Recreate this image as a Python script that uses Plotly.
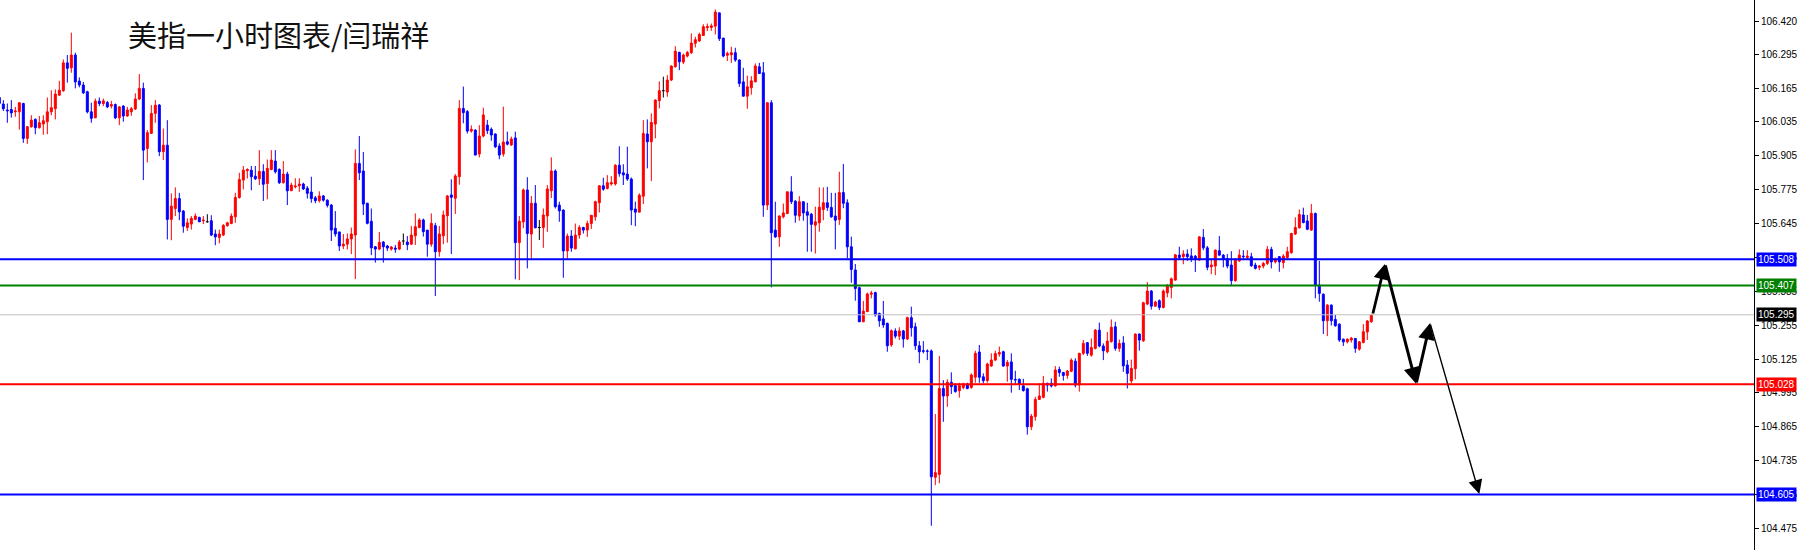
import plotly.graph_objects as go

# ---- hourly candles (price values) ----
opens = [
106.129,106.104,106.081,106.083,106.074,106.074,106.106,105.972,106.017,106.045,
106.013,106.027,106.036,106.074,106.086,106.138,106.155,106.262,106.243,106.292,
106.192,106.177,106.151,106.074,106.051,106.115,106.106,106.110,106.096,106.102,
106.051,106.096,106.058,106.074,106.085,106.123,106.164,105.933,105.991,106.068,
106.100,105.921,105.946,105.661,105.703,105.741,105.693,105.630,105.643,105.661,
105.669,105.656,105.652,105.656,105.605,105.592,105.601,105.637,105.645,105.671,
105.745,105.812,105.848,105.850,105.827,105.817,105.845,105.799,105.853,105.885,
105.853,105.802,105.835,105.771,105.786,105.790,105.797,105.781,105.766,105.744,
105.733,105.751,105.735,105.716,105.627,105.613,105.559,105.566,105.586,105.601,
105.876,105.847,105.723,105.654,105.556,105.547,105.574,105.559,105.547,105.551,
105.547,105.578,105.574,105.566,105.598,105.630,105.659,105.620,105.566,105.637,
105.537,105.598,105.675,105.755,105.742,105.825,106.087,106.075,106.000,106.004,
105.912,105.981,106.023,106.007,105.989,105.943,105.912,105.959,105.947,105.974,
105.572,105.651,105.774,105.605,105.723,105.630,105.630,105.674,105.771,105.847,
105.716,105.697,105.540,105.597,105.548,105.601,105.630,105.620,105.645,105.671,
105.725,105.790,105.780,105.797,105.797,105.869,105.840,105.835,105.816,105.701,
105.689,105.750,105.989,105.959,106.027,106.117,106.155,106.150,106.196,106.247,
106.302,106.265,106.288,106.301,106.337,106.346,106.367,106.397,106.398,106.403,
106.454,106.357,106.291,106.293,106.301,106.273,106.189,106.134,106.166,106.189,
106.247,106.224,105.716,106.109,105.620,105.594,105.671,105.684,105.767,105.731,
105.674,105.729,105.690,105.681,105.639,105.648,105.699,105.725,105.707,105.674,
105.661,105.764,105.725,105.556,105.467,105.399,105.268,105.307,105.374,105.380,
105.300,105.279,105.262,105.179,105.233,105.213,105.233,105.202,105.284,105.249,
105.176,105.157,105.156,105.156,104.671,104.682,105.012,104.983,105.036,105.023,
105.003,105.016,105.029,105.016,105.055,105.152,105.057,105.042,105.098,105.121,
105.144,105.153,105.098,105.114,105.047,105.047,105.022,105.011,104.865,104.904,
104.970,104.978,105.032,105.032,105.022,105.085,105.073,105.062,105.078,105.117,
105.025,105.147,105.188,105.140,105.166,105.236,105.175,105.153,105.192,105.249,
105.166,105.187,105.102,105.041,105.088,105.221,105.195,105.336,105.386,105.328,
105.349,105.323,105.379,105.400,105.428,105.524,105.518,105.528,105.521,105.520,
105.505,105.592,105.552,105.479,105.482,105.541,105.524,105.511,105.486,105.426,
105.502,105.520,105.515,105.518,105.486,105.477,105.482,105.492,105.546,105.498,
105.518,105.495,105.515,105.533,105.605,105.629,105.678,105.655,105.620,105.684,
105.409,105.374,105.272,105.332,105.277,105.259,105.201,105.191,105.198,105.204,
105.163,105.189,105.229,105.268]
highs = [
106.132,106.119,106.106,106.119,106.093,106.111,106.109,106.019,106.061,106.049,
106.058,106.061,106.129,106.157,106.160,106.193,106.275,106.292,106.378,106.301,
106.206,106.189,106.155,106.109,106.125,106.129,106.125,106.116,106.116,106.106,
106.096,106.100,106.093,106.093,106.145,106.219,106.186,106.004,106.100,106.119,
106.104,106.010,106.042,105.761,105.784,105.763,105.697,105.665,105.674,105.684,
105.671,105.674,105.681,105.677,105.622,105.622,105.643,105.652,105.684,105.763,
105.840,105.866,105.857,105.866,105.866,105.927,105.873,105.891,105.927,105.927,
105.857,105.885,105.844,105.802,105.819,105.819,105.802,105.789,105.825,105.751,
105.769,105.755,105.738,105.720,105.693,105.613,105.605,105.607,105.630,105.930,
105.981,105.920,105.725,105.703,105.559,105.613,105.578,105.563,105.559,105.563,
105.582,105.607,105.597,105.636,105.684,105.666,105.664,105.620,105.684,105.648,
105.636,105.695,105.755,105.815,105.835,106.119,106.171,106.081,106.022,106.007,
106.023,106.090,106.043,106.014,105.991,105.953,106.094,105.998,105.979,105.998,
105.674,105.780,105.823,105.751,105.793,105.659,105.703,105.793,105.899,105.853,
105.729,105.699,105.607,105.620,105.645,105.639,105.633,105.656,105.677,105.733,
105.793,105.821,105.831,105.827,105.873,105.942,105.873,105.940,105.822,105.729,
105.761,106.042,106.045,106.068,106.122,106.191,106.209,106.215,106.252,106.326,
106.305,106.298,106.308,106.375,106.362,106.378,106.410,106.413,106.413,106.467,
106.454,106.358,106.305,106.324,106.320,106.275,106.243,106.213,106.211,106.260,
106.262,106.265,106.109,106.119,105.729,105.677,105.722,105.767,105.827,105.735,
105.750,105.729,105.725,105.686,105.710,105.784,105.784,105.786,105.763,105.763,
105.844,105.874,105.738,105.595,105.490,105.403,105.348,105.380,105.387,105.384,
105.303,105.348,105.265,105.239,105.243,105.247,105.237,105.288,105.326,105.265,
105.194,105.194,105.162,105.162,104.914,105.137,105.044,105.047,105.074,105.032,
105.034,105.034,105.034,105.070,105.157,105.179,105.070,105.111,105.147,105.157,
105.173,105.157,105.121,105.147,105.080,105.051,105.049,105.015,104.914,104.980,
105.032,105.060,105.034,105.051,105.098,105.096,105.076,105.083,105.128,105.128,
105.149,105.198,105.189,105.204,105.240,105.265,105.185,105.229,105.277,105.268,
105.200,105.213,105.121,105.123,105.223,105.223,105.345,105.420,105.390,105.349,
105.354,105.392,105.413,105.438,105.528,105.556,105.543,105.546,105.550,105.524,
105.597,105.624,105.559,105.511,105.546,105.597,105.528,105.528,105.539,105.511,
105.546,105.543,105.543,105.533,105.495,105.486,105.498,105.559,105.556,105.515,
105.520,105.528,105.556,105.610,105.669,105.699,105.706,105.678,105.720,105.687,
105.502,105.377,105.336,105.335,105.294,105.262,105.204,105.205,105.210,105.205,
105.194,105.259,105.275,105.298]
lows = [
106.081,106.077,106.032,106.052,106.055,106.006,105.955,105.951,106.013,105.988,
106.010,105.986,105.988,106.061,106.045,106.136,106.151,106.186,106.224,106.164,
106.168,106.142,106.068,106.032,106.050,106.096,106.096,106.088,106.087,106.046,
106.023,106.036,106.055,106.059,106.081,106.119,105.812,105.880,105.991,106.032,
105.904,105.889,105.584,105.581,105.674,105.658,105.610,105.617,105.622,105.658,
105.651,105.643,105.648,105.597,105.562,105.569,105.597,105.633,105.643,105.648,
105.741,105.776,105.818,105.773,105.812,105.793,105.732,105.738,105.850,105.837,
105.797,105.799,105.716,105.771,105.780,105.767,105.774,105.741,105.725,105.723,
105.726,105.729,105.707,105.578,105.595,105.540,105.547,105.546,105.528,105.432,
105.812,105.678,105.642,105.524,105.495,105.543,105.495,105.540,105.541,105.533,
105.543,105.563,105.543,105.563,105.563,105.627,105.595,105.518,105.556,105.367,
105.518,105.566,105.572,105.528,105.682,105.794,106.030,105.991,105.994,105.908,
105.899,105.976,105.989,105.963,105.935,105.892,105.902,105.945,105.943,105.431,
105.428,105.627,105.473,105.511,105.627,105.582,105.552,105.613,105.743,105.703,
105.652,105.437,105.511,105.537,105.546,105.587,105.607,105.594,105.625,105.656,
105.688,105.771,105.776,105.791,105.791,105.825,105.793,105.809,105.639,105.635,
105.689,105.720,105.857,105.808,105.972,106.087,106.129,106.132,106.192,106.244,
106.234,106.257,106.283,106.296,106.321,106.342,106.365,106.384,106.385,106.371,
106.346,106.283,106.269,106.262,106.266,106.170,106.134,106.086,106.140,106.188,
106.219,105.671,105.697,105.400,105.590,105.556,105.665,105.681,105.720,105.648,
105.656,105.656,105.537,105.537,105.530,105.614,105.658,105.694,105.667,105.546,
105.640,105.704,105.512,105.418,105.349,105.268,105.268,105.307,105.358,105.288,
105.249,105.245,105.153,105.172,105.204,105.198,105.169,105.198,105.211,105.160,
105.109,105.147,105.121,104.485,104.641,104.648,104.884,104.942,104.991,104.996,
104.977,105.009,105.009,105.011,105.034,105.034,105.032,105.034,105.096,105.117,
105.134,105.096,105.038,104.996,105.025,105.006,105.000,104.835,104.852,104.888,
104.968,104.974,105.000,105.016,105.019,105.057,105.042,105.049,105.075,105.016,
105.000,105.140,105.137,105.134,105.162,105.170,105.121,105.147,105.188,105.157,
105.153,105.076,105.012,105.031,105.047,105.157,105.191,105.332,105.315,105.326,
105.313,105.319,105.362,105.358,105.426,105.505,105.489,105.502,105.498,105.459,
105.502,105.543,105.466,105.451,105.447,105.520,105.477,105.473,105.409,105.422,
105.498,105.505,105.505,105.479,105.469,105.466,105.473,105.486,105.473,105.492,
105.460,105.473,105.505,105.530,105.601,105.626,105.646,105.620,105.617,105.358,
105.345,105.221,105.213,105.254,105.249,105.191,105.175,105.185,105.188,105.149,
105.157,105.185,105.198,105.264]
closes = [
106.106,106.086,106.078,106.070,106.077,106.109,105.972,106.017,106.042,106.013,
106.032,106.040,106.074,106.090,106.142,106.157,106.262,106.241,106.292,106.189,
106.177,106.147,106.074,106.049,106.115,106.106,106.116,106.093,106.102,106.051,
106.093,106.058,106.081,106.086,106.123,106.164,105.927,105.994,106.068,106.099,
105.921,105.946,105.661,105.712,105.741,105.690,105.635,105.648,105.665,105.674,
105.652,105.658,105.652,105.601,105.594,105.605,105.638,105.648,105.674,105.745,
105.814,105.850,105.853,105.825,105.817,105.845,105.796,105.857,105.889,105.844,
105.802,105.835,105.771,105.793,105.789,105.797,105.778,105.761,105.741,105.733,
105.751,105.735,105.715,105.620,105.605,105.559,105.566,105.586,105.605,105.876,
105.840,105.720,105.646,105.552,105.547,105.573,105.556,105.551,105.555,105.547,
105.574,105.578,105.564,105.601,105.633,105.659,105.614,105.566,105.646,105.537,
105.605,105.678,105.751,105.746,105.828,106.087,106.071,106.000,106.007,105.908,
105.981,106.062,106.002,105.985,105.940,105.908,105.958,105.950,105.970,105.572,
105.654,105.774,105.607,105.723,105.629,105.630,105.678,105.778,105.847,105.710,
105.694,105.540,105.597,105.551,105.601,105.630,105.620,105.645,105.677,105.729,
105.790,105.777,105.802,105.802,105.869,105.837,105.832,105.816,105.697,105.689,
105.754,105.991,105.959,106.033,106.119,106.155,106.155,106.196,106.250,106.307,
106.266,106.292,106.302,106.338,106.351,106.371,106.401,106.401,106.404,106.457,
106.355,106.288,106.298,106.301,106.273,106.183,106.134,106.170,106.193,106.250,
106.221,105.716,106.109,105.610,105.594,105.674,105.686,105.767,105.729,105.677,
105.729,105.686,105.677,105.642,105.652,105.708,105.725,105.707,105.671,105.658,
105.764,105.723,105.556,105.469,105.396,105.268,105.309,105.375,105.378,105.294,
105.272,105.256,105.176,105.234,105.213,105.233,105.202,105.284,105.245,105.176,
105.153,105.155,105.155,104.673,104.689,105.012,104.983,105.036,105.019,105.000,
105.023,105.029,105.012,105.064,105.147,105.055,105.042,105.106,105.121,105.146,
105.150,105.098,105.112,105.047,105.045,105.028,105.004,104.865,104.906,104.970,
104.983,105.032,105.025,105.022,105.083,105.073,105.062,105.079,105.121,105.025,
105.147,105.185,105.147,105.169,105.236,105.175,105.157,105.194,105.247,105.166,
105.185,105.099,105.070,105.089,105.221,105.198,105.341,105.386,105.328,105.344,
105.323,105.386,105.405,105.433,105.525,105.515,105.528,105.518,105.511,105.507,
105.594,105.552,105.477,105.486,105.543,105.524,105.507,105.482,105.426,105.509,
105.524,105.518,105.520,105.483,105.473,105.482,105.492,105.546,105.498,105.505,
105.498,105.520,105.537,105.607,105.630,105.680,105.649,105.623,105.684,105.409,
105.377,105.272,105.332,105.272,105.253,105.198,105.191,105.201,105.205,105.166,
105.191,105.230,105.271,105.294]

# ---- axis ticks (labels as printed on the right scale) ----
tick_labels = ["106.420", "106.295", "106.165", "106.035", "105.905", "105.775",
               "105.645", "105.515", "105.385", "105.255", "105.125", "104.995",
               "104.865", "104.735", "104.605", "104.475"]
tick_values = [float(t) for t in tick_labels]

# ---- horizontal levels: (price, colour, width) ----
level_prices = [105.508, 105.407, 105.295, 105.028, 104.605]
level_colors = ["#0000FF", "#008000", "#C0C0C0", "#FF0000", "#0000FF"]
level_widths = [2, 2, 1, 2, 2]
badge_bg = ["#0000FF", "#008000", "#000000", "#FF0000", "#0000FF"]

# ---- hand-drawn forecast path (candle index, price) ----
path_x = [343.3, 346.4, 354.2, 357.7, 370.0]
path_y = [105.294, 105.490, 105.030, 105.263, 104.607]
path_w = [2.8, 3.0, 3.0, 1.4]
path_head = [1.1, 1.1, 1.1, 2.0]

title_text = "美指一小时图表/闫瑞祥"

n = len(opens)
idx = list(range(n))
norm = [i for i in idx if opens[i] != closes[i]]
doji = [i for i in idx if opens[i] == closes[i]]

fig = go.Figure()
fig.add_trace(go.Candlestick(
    x=norm,
    open=[opens[i] for i in norm], high=[highs[i] for i in norm],
    low=[lows[i] for i in norm], close=[closes[i] for i in norm],
    increasing=dict(line=dict(color="#FF0000", width=1), fillcolor="#FF0000"),
    decreasing=dict(line=dict(color="#0000FF", width=1), fillcolor="#0000FF"),
    whiskerwidth=0, showlegend=False, hoverinfo="skip"))

# doji candles (black cross)
dx, dy = [], []
for i in doji:
    dx += [i, i, None, i - 0.35, i + 0.35, None]
    dy += [lows[i], highs[i], None, opens[i], opens[i], None]
fig.add_trace(go.Scatter(x=dx, y=dy, mode="lines", line=dict(color="black", width=1),
                         showlegend=False, hoverinfo="skip"))

shapes = []
for p, c, w in zip(level_prices, level_colors, level_widths):
    shapes.append(dict(type="line", xref="paper", x0=0, x1=1, yref="y", y0=p, y1=p,
                       line=dict(color=c, width=w), layer="above"))

annotations = []
for p, bg in zip(level_prices, badge_bg):
    annotations.append(dict(x=1, xref="paper", xanchor="left", xshift=2, y=p, yref="y",
                            text=f"{p:.3f}", showarrow=False, bgcolor=bg, borderpad=1,
                            font=dict(color="white", size=10, family="Liberation Sans")))
for k in range(len(path_x) - 1):
    annotations.append(dict(x=path_x[k + 1], y=path_y[k + 1], ax=path_x[k], ay=path_y[k],
                            xref="x", yref="y", axref="x", ayref="y", text="",
                            showarrow=True, arrowhead=2, arrowsize=path_head[k],
                            arrowwidth=path_w[k], arrowcolor="black"))
annotations.append(dict(x=126 / 1754, xref="paper", xanchor="left", y=1 - 34 / 550, yref="paper",
                        yanchor="middle", text=title_text, showarrow=False,
                        font=dict(size=29, color="#111111", family="Noto Sans CJK SC")))

fig.update_layout(
    width=1798, height=550,
    margin=dict(l=0, r=44, t=0, b=0),
    paper_bgcolor="white", plot_bgcolor="white",
    showlegend=False, shapes=shapes, annotations=annotations,
    boxgap=0.3,
    xaxis=dict(range=[0.17, 438.67], visible=False, rangeslider=dict(visible=False),
               showgrid=False, zeroline=False),
    yaxis=dict(range=[104.392, 106.5033], side="right", showgrid=False, zeroline=False,
               tickmode="array", tickvals=tick_values, ticktext=tick_labels,
               ticks="outside", ticklen=4, tickcolor="black", showline=True,
               linecolor="black", linewidth=1,
               tickfont=dict(size=10, color="black", family="Liberation Sans")),
)

fig.write_html("out.html", config={"displayModeBar": False},
               post_script="document.body.style.margin='0';")
